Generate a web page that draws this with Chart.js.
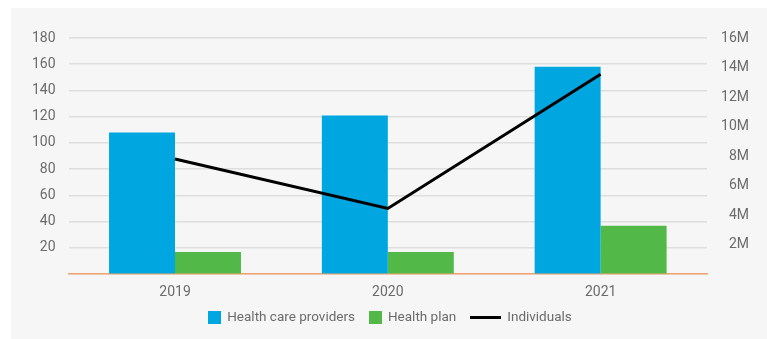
<!DOCTYPE html>
<html>
<head>
<meta charset="utf-8">
<script src="https://cdn.jsdelivr.net/npm/chart.js@4"></script>
<style>
    html, body { margin: 0; padding: 0; background: #fff; }
    #wrap { position: relative; width: 767px; height: 339px; }
    #panel { position: absolute; left: 11px; top: 8px; right: 0; bottom: 0; background: #f6f6f6; }
    #box { position: absolute; left: 0; top: 0; width: 767px; height: 339px; }
    #legend { position: absolute; left: 0; width: 780px; top: 307px; text-align: center;
        font-family: Roboto, sans-serif; font-size: 13.5px; color: #6b6b6b; }
    #legend span.item { display: inline-block; margin: 0 7px; vertical-align: middle; }
    #legend i { display: inline-block; vertical-align: middle; margin-right: 6px; }
    #legend .sq { width: 13px; height: 13px; }
    #legend .ln { width: 31px; height: 3px; background: #000; }
</style>
</head>
<body>
<div id="wrap">
    <div id="panel"></div>
    <div id="box"><canvas id="chart"></canvas></div>
    <div id="legend"></div>
</div>
<script>
var years = ['2019', '2020', '2021'];
var providers = [108, 121, 158];
var healthPlan = [17, 17, 37];
var individuals = [7800000, 4450000, 13550000];
var leftTicks = [0, 20, 40, 60, 80, 100, 120, 140, 160, 180];
var rightTicks = [0, 2000000, 4000000, 6000000, 8000000, 10000000, 12000000, 14000000, 16000000];

var tickColor = '#6b6b6b';
var tickFont = { family: 'Roboto, sans-serif', size: 14 };

var series = [
    { label: 'Health care providers', color: '#00a6e0', type: 'sq' },
    { label: 'Health plan', color: '#52b848', type: 'sq' },
    { label: 'Individuals', color: '#000000', type: 'ln' }
];

var legendEl = document.getElementById('legend');
series.forEach(function (s) {
    var item = document.createElement('span');
    item.className = 'item';
    var mark = document.createElement('i');
    mark.className = s.type;
    mark.style.background = s.color;
    item.appendChild(mark);
    item.appendChild(document.createTextNode(s.label));
    legendEl.appendChild(item);
});

new Chart(document.getElementById('chart'), {
    data: {
        labels: years,
        datasets: [
            {
                type: 'line',
                label: 'Individuals',
                data: individuals,
                yAxisID: 'y1',
                borderColor: '#000',
                borderWidth: 3,
                pointRadius: 0,
                tension: 0,
                order: 0
            },
            {
                type: 'bar',
                label: 'Health care providers',
                data: providers,
                yAxisID: 'y',
                backgroundColor: '#00a6e0',
                barPercentage: 1,
                categoryPercentage: 0.62,
                order: 1
            },
            {
                type: 'bar',
                label: 'Health plan',
                data: healthPlan,
                yAxisID: 'y',
                backgroundColor: '#52b848',
                barPercentage: 1,
                categoryPercentage: 0.62,
                order: 1
            }
        ]
    },
    options: {
        responsive: true,
        maintainAspectRatio: false,
        animation: false,
        layout: { padding: { left: 19, right: 18, top: 38, bottom: 28 } },
        plugins: { legend: { display: false }, tooltip: { enabled: false } },
        scales: {
            x: {
                grid: { display: false, drawTicks: false },
                border: { color: '#f2a46e', width: 1.5 },
                ticks: { color: tickColor, font: tickFont, padding: 10 }
            },
            y: {
                position: 'left',
                min: 0,
                max: 180,
                afterBuildTicks: function (axis) {
                    axis.ticks = leftTicks.map(function (v) { return { value: v }; });
                },
                grid: { color: '#dedede', lineWidth: 1.5, drawTicks: false },
                border: { display: false },
                ticks: {
                    color: tickColor, font: tickFont, padding: 13,
                    callback: function (v) { return v === 0 ? '' : v; }
                }
            },
            y1: {
                position: 'right',
                min: 0,
                max: 16000000,
                afterBuildTicks: function (axis) {
                    axis.ticks = rightTicks.map(function (v) { return { value: v }; });
                },
                grid: { display: false, drawTicks: false },
                border: { display: false },
                ticks: {
                    color: tickColor, font: tickFont, padding: 7, crossAlign: 'far',
                    callback: function (v) { return v === 0 ? '' : (v / 1000000) + 'M'; }
                }
            }
        }
    }
});
</script>
</body>
</html>
